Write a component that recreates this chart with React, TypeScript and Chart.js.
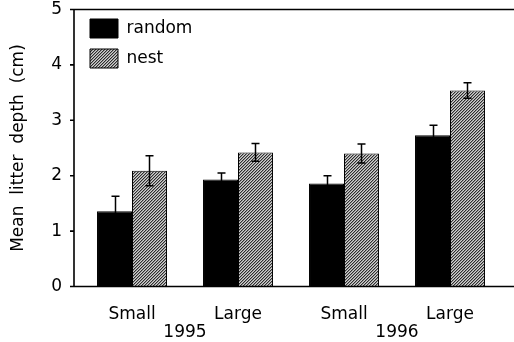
import { useEffect, useRef } from 'react';
import { Chart, registerables } from 'chart.js';

Chart.register(...registerables);

const categories = ['Small', 'Large', 'Small', 'Large'];
const years = ['1995', '1996'];
const randomMeans = [1.36, 1.93, 1.86, 2.73];
const randomErrors = [0.27, 0.12, 0.14, 0.18];
const nestMeans = [2.09, 2.42, 2.4, 3.54];
const nestErrors = [0.27, 0.16, 0.17, 0.14];
const yTicks = [0, 1, 2, 3, 4, 5];
const yTitle = 'Mean  litter  depth  (cm)';

const FONT = 'DejaVu Sans';

function makePattern(ctx: CanvasRenderingContext2D): CanvasPattern | string {
  const tile = document.createElement('canvas');
  tile.width = 3;
  tile.height = 3;
  const t = tile.getContext('2d');
  if (!t) return '#888';
  for (let x = 0; x < 3; x++) {
    for (let y = 0; y < 3; y++) {
      const d = (x + y) % 3;
      t.fillStyle = d === 0 ? '#2e2e2e' : d === 1 ? '#929292' : '#d0d0d0';
      t.fillRect(x, y, 1, 1);
    }
  }
  return ctx.createPattern(tile, 'repeat') || '#888';
}

const errorsByDataset = [randomErrors, nestErrors];

const errorBarPlugin = {
  id: 'errorBars',
  afterDatasetsDraw(chart: any) {
    const ctx = chart.ctx;
    const yScale = chart.scales.y;
    ctx.save();
    ctx.strokeStyle = '#000';
    ctx.lineWidth = 1.5;
    chart.data.datasets.forEach((ds: any, di: number) => {
      const meta = chart.getDatasetMeta(di);
      meta.data.forEach((el: any, i: number) => {
        const v = ds.data[i];
        const e = errorsByDataset[di][i];
        const yTop = yScale.getPixelForValue(v + e);
        const yBot = yScale.getPixelForValue(v - e);
        const x = Math.round(el.x) + 0.5;
        ctx.beginPath();
        ctx.moveTo(x, yTop);
        ctx.lineTo(x, yBot);
        ctx.moveTo(x - 4, yTop);
        ctx.lineTo(x + 4, yTop);
        ctx.moveTo(x - 4, yBot);
        ctx.lineTo(x + 4, yBot);
        ctx.stroke();
      });
    });
    ctx.restore();
  },
};

const framePlugin = {
  id: 'frame',
  afterDatasetsDraw(chart: any) {
    const ctx = chart.ctx;
    const { top, bottom, left } = chart.chartArea;
    const yScale = chart.scales.y;
    const axisX = left - 5;
    const right = chart.width;
    ctx.save();
    ctx.strokeStyle = '#000';
    ctx.lineWidth = 1.6;
    ctx.beginPath();
    ctx.moveTo(axisX, top);
    ctx.lineTo(axisX, bottom);
    ctx.moveTo(axisX, top);
    ctx.lineTo(right, top);
    ctx.moveTo(axisX, bottom);
    ctx.lineTo(right, bottom);
    yTicks.forEach((v) => {
      const y = yScale.getPixelForValue(v);
      ctx.moveTo(axisX - 4, y);
      ctx.lineTo(axisX, y);
    });
    ctx.stroke();
    ctx.restore();
  },
};

export default function App() {
  const ref = useRef<HTMLCanvasElement | null>(null);

  useEffect(() => {
    const canvas = ref.current;
    if (!canvas) return;
    const ctx = canvas.getContext('2d');
    if (!ctx) return;
    const pattern = makePattern(ctx);

    const chart = new Chart(ctx, {
      type: 'bar',
      data: {
        labels: categories,
        datasets: [
          {
            label: 'random',
            data: randomMeans,
            backgroundColor: '#000',
            borderColor: '#000',
            borderWidth: 1,
            categoryPercentage: 0.66,
            barPercentage: 1.0,
          },
          {
            label: 'nest',
            data: nestMeans,
            backgroundColor: pattern as any,
            borderColor: '#000',
            borderWidth: 1,
            categoryPercentage: 0.66,
            barPercentage: 1.0,
          },
        ],
      },
      options: {
        animation: false,
        responsive: false,
        maintainAspectRatio: false,
        layout: { padding: { left: 0, right: 11, top: 9.5, bottom: 0 } },
        plugins: {
          tooltip: { enabled: false },
          legend: {
            position: 'chartArea' as any,
            fullSize: false,
            align: 'start',
            title: { display: true, text: '', font: { size: 5 }, padding: { top: 1, bottom: 1 } },
            labels: {
              boxWidth: 28,
              boxHeight: 19,
              padding: 11,
              color: '#000',
              font: { family: FONT, size: 17 },
            },
          },
        },
        scales: {
          x: {
            type: 'category',
            position: 'bottom',
            weight: 0,
            offset: true,
            grid: { display: false, drawTicks: false },
            border: { display: false },
            ticks: { color: '#000', padding: 18, font: { family: FONT, size: 17 } },
            afterFit: (s: any) => {
              s.height = 37.5;
            },
          },
          x2: {
            type: 'category',
            position: 'bottom',
            weight: 1,
            labels: years,
            offset: true,
            grid: { display: false, drawTicks: false },
            border: { display: false },
            ticks: { color: '#000', padding: -1.5, font: { family: FONT, size: 17 } },
            afterFit: (s: any) => {
              s.height = 18;
            },
          },
          y: {
            min: 0,
            max: 5,
            grid: { display: false, drawTicks: false },
            border: { display: false },
            ticks: {
              stepSize: 1,
              color: '#000',
              padding: 17,
              font: { family: FONT, size: 17 },
            },
            title: {
              display: true,
              text: yTitle,
              color: '#000',
              font: { family: FONT, size: 17 },
              padding: { top: 8, bottom: 0 },
            },
            afterFit: (s: any) => {
              s.width = 79;
              s.paddingTop = 0;
              s.paddingBottom = 0;
            },
          },
        },
      } as any,
      plugins: [framePlugin, errorBarPlugin],
    });
    return () => chart.destroy();
  }, []);

  return (
    <div style={{ position: 'absolute', left: 0, top: 0, width: 514, height: 342, background: '#fff' }}>
      <canvas ref={ref} width={514} height={342} />
    </div>
  );
}
